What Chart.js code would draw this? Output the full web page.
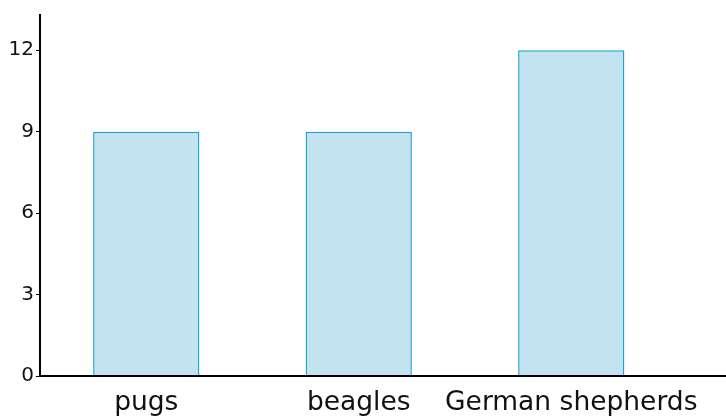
<!DOCTYPE html>
<html>
<head>
<meta charset="utf-8">
<script src="https://cdn.jsdelivr.net/npm/chart.js@4/dist/chart.umd.min.js"></script>
<style>
  html, body { margin: 0; padding: 0; background: #fff; }
  #wrap { width: 726px; height: 418px; }
</style>
</head>
<body>
<div id="wrap"><canvas id="dogChart"></canvas></div>
<script>
const breeds = ['pugs', 'beagles', 'German shepherds'];
const counts = [9, 9, 12];
const yTicks = [0, 3, 6, 9, 12];

// draws the x axis line past the last category, out to the canvas edge
const axisLine = {
  id: 'axisLine',
  afterDraw(chart) {
    const { ctx, chartArea } = chart;
    ctx.save();
    ctx.strokeStyle = '#000';
    ctx.lineWidth = 2;
    ctx.beginPath();
    ctx.moveTo(chartArea.left - 1, chartArea.bottom);
    ctx.lineTo(chart.width, chartArea.bottom);
    ctx.stroke();
    ctx.restore();
  }
};

const ctx = document.getElementById('dogChart').getContext('2d');
new Chart(ctx, {
  type: 'bar',
  data: {
    labels: breeds,
    datasets: [{
      data: counts,
      backgroundColor: '#c2e3ef',
      borderColor: '#1ea2d2',
      borderWidth: 1.5,
      barPercentage: 0.5,
      categoryPercentage: 1
    }]
  },
  options: {
    responsive: true,
    maintainAspectRatio: false,
    animation: false,
    layout: { padding: { top: 15, right: 48.5, left: 0, bottom: 0 } },
    plugins: {
      legend: { display: false },
      tooltip: { enabled: false }
    },
    scales: {
      x: {
        grid: { display: false },
        border: { display: false },
        ticks: {
          color: '#111',
          padding: 3,
          autoSkip: false,
          maxRotation: 0,
          font: { family: 'DejaVu Sans', size: 26.5 }
        },
        afterFit(scale) { scale.height = 42; }
      },
      y: {
        min: 0,
        max: 13.3,
        afterBuildTicks(scale) {
          scale.ticks = yTicks.map(v => ({ value: v }));
        },
        grid: {
          drawOnChartArea: false,
          tickLength: 4,
          tickWidth: 1,
          tickColor: '#000'
        },
        border: { display: true, color: '#000', width: 2 },
        ticks: {
          color: '#111',
          padding: 2,
          font: { family: 'DejaVu Sans', size: 20 }
        },
        afterFit(scale) { scale.width = 40; }
      }
    }
  },
  plugins: [axisLine]
});
</script>
</body>
</html>
